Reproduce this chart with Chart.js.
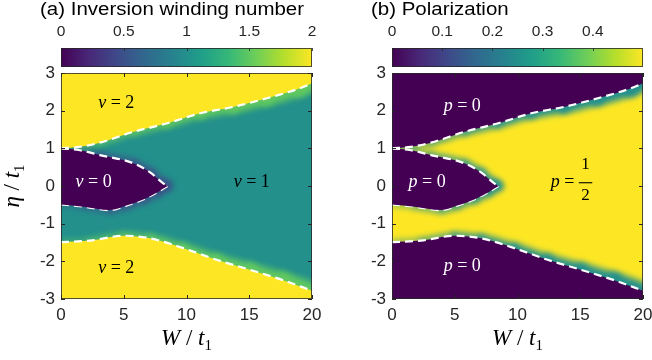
<!DOCTYPE html>
<html lang="en">
<head>
  <meta charset="UTF-8" />
  <title>Inversion winding number and polarization</title>
  <script src="https://cdn.jsdelivr.net/npm/chart.js@4.4.0"></script>
  <style>
    * { box-sizing: border-box; margin: 0; padding: 0; }
    body { background: #fff; width: 652px; height: 360px; overflow: hidden; }
    .panel { position: absolute; top: 0; width: 326px; height: 360px; }
    .panel canvas { position: absolute; left: 0; top: 0; }
    .title {
      position: absolute;
      top: 1px;
      font: 17.5px 'Liberation Sans', Arial, sans-serif;
      line-height: 1;
      color: #000;
      white-space: nowrap;
      transform: scaleX(1.17);
      transform-origin: left top;
    }
  </style>
</head>
<body>
  <div class="panel" style="left:0">
    <canvas id="chartA" width="326" height="360"></canvas>
    <div class="title" style="left:40px">(a) Inversion winding number</div>
  </div>
  <div class="panel" style="left:326px">
    <canvas id="chartB" width="326" height="360"></canvas>
    <div class="title" style="left:45px">(b) Polarization</div>
  </div>

  <script>
    // axis ticks
    const W_TICKS = [0, 5, 10, 15, 20];
    const ETA_TICKS = [-3, -2, -1, 0, 1, 2, 3];
    const NU_CB_TICKS = [0, 0.5, 1, 1.5, 2];
    const P_CB_TICKS = [0, 0.1, 0.2, 0.3, 0.4];
    const NU_RANGE = [0, 2];
    const P_RANGE = [0, 0.5];

    // phase boundaries (white dashed lines), W/t1 and eta/t1
    const upperW   = [0, 1.5, 3.1, 5.8, 8.4, 11.1, 13.7, 16.4, 19.0, 20];
    const upperEta = [1.00, 1.04, 1.15, 1.44, 1.66, 1.93, 2.10, 2.33, 2.59, 2.73];
    const lobeTopW   = [0, 1.5, 3.1, 5.8, 7.1, 8.15, 8.5];
    const lobeTopEta = [1.00, 0.95, 0.82, 0.60, 0.36, 0.07, 0.00];
    const lobeBotW   = [0, 1.8, 3.9, 5.2, 6.6, 7.75, 8.5];
    const lobeBotEta = [-0.49, -0.55, -0.64, -0.52, -0.35, -0.15, 0.00];
    const lowerW   = [0, 2.3, 5.0, 7.1, 9.75, 12.4, 15.1, 17.7, 20];
    const lowerEta = [-1.49, -1.45, -1.32, -1.39, -1.65, -1.96, -2.23, -2.50, -2.78];

    // value of each phase: top, middle, lobe, bottom
    const nuPhase = [2, 1, 0, 2];
    const pPhase  = [0, 0.5, 0, 0];

    // where the phase labels sit (same order as the phases)
    const nuLabelW   = [4.4, 15.2, 2.6, 4.4];
    const nuLabelEta = [2.19, 0.09, 0.09, -2.19];
    const pLabelW    = [5.6, 14.3, 2.8, 5.6];
    const pLabelEta  = [2.11, 0.10, 0.09, -2.14];

    const VIRIDIS = ['#440154', '#482878', '#3e4989', '#31688e', '#26828e',
                     '#1f9e89', '#35b779', '#6ece58', '#b5de2b', '#fde725'];
    const SANS = '"Liberation Sans", Arial, sans-serif';
    const SERIF = '"Liberation Serif", "Times New Roman", serif';
    const INK = '#262626';

    function hexRgb(h) {
      return [1, 3, 5].map(i => parseInt(h.slice(i, i + 2), 16));
    }
    function cmap(t) {
      t = Math.min(1, Math.max(0, t));
      const n = VIRIDIS.length - 1;
      const i = Math.min(n - 1, Math.floor(t * n));
      const f = t * n - i;
      const a = hexRgb(VIRIDIS[i]), b = hexRgb(VIRIDIS[i + 1]);
      const c = a.map((v, k) => Math.round(v + (b[k] - v) * f));
      return `rgb(${c[0]},${c[1]},${c[2]})`;
    }

    // text with mixed fonts, centred on cx, baseline at y
    function richText(ctx, parts, cx, y) {
      let total = 0;
      parts.forEach(p => { ctx.font = p.font; p.w = ctx.measureText(p.t).width; total += p.w; });
      let x = cx - total / 2;
      ctx.textAlign = 'left';
      ctx.textBaseline = 'alphabetic';
      parts.forEach(p => { ctx.font = p.font; ctx.fillText(p.t, x, y + (p.dy || 0)); x += p.w; });
    }

    function phaseLabel(ctx, sym, value, cx, cy, color) {
      const it = `italic 18px ${SERIF}`, up = `18px ${SERIF}`;
      ctx.fillStyle = color;
      ctx.strokeStyle = color;
      ctx.textBaseline = 'middle';
      ctx.textAlign = 'left';
      ctx.font = it; const ws = ctx.measureText(sym).width;
      ctx.font = up; const we = ctx.measureText(' = ').width;
      const frac = !Number.isInteger(value);
      let wv;
      if (frac) { ctx.font = `17px ${SERIF}`; wv = ctx.measureText('2').width + 5; }
      else wv = ctx.measureText(String(value)).width;
      let x = cx - (ws + we + wv) / 2;
      ctx.font = it; ctx.fillText(sym, x, cy); x += ws;
      ctx.font = up; ctx.fillText(' = ', x, cy); x += we;
      if (frac) {
        ctx.font = `17px ${SERIF}`;
        ctx.textAlign = 'center';
        ctx.fillText('1', x + wv / 2, cy - 18);
        ctx.fillText(String(Math.round(1 / value)), x + wv / 2, cy + 13);
        ctx.lineWidth = 1.1;
        ctx.beginPath(); ctx.moveTo(x, cy + 0.5); ctx.lineTo(x + wv, cy + 0.5); ctx.stroke();
      } else {
        ctx.fillText(String(value), x, cy);
      }
    }

    // keep tick-label overhang from shrinking the plot area
    function noPad(s) {
      s.paddingLeft = 0; s.paddingRight = 0; s.paddingTop = 0; s.paddingBottom = 0;
    }

    function makePanel(id, cfg) {
      const [vTop, vMid, vLobe, vBot] = cfg.phase;
      const col = v => cmap((v - cfg.range[0]) / (cfg.range[1] - cfg.range[0]));
      const pts = (ws, es) => ws.map((w, i) => ({ x: w, y: es[i] }));
      const dash = {
        borderColor: '#ffffff', borderWidth: 2.2, borderDash: [8, 5],
        pointRadius: 0, cubicInterpolationMode: 'monotone', order: 0
      };
      const band = (ws, es, a, b) => ({
        data: pts(ws, es), fill: false, borderColor: col((a + b) / 2),
        borderCapStyle: 'round', pointRadius: 0, cubicInterpolationMode: 'monotone',
        order: 1, blur: 3,
        segment: { borderWidth: c => 2 + 0.75 * (c.p0.parsed.x + c.p1.parsed.x) / 2 }
      });

      const tickFont = { family: SANS, size: 17 };
      const plain = v => String(v);

      const phasePlugin = {
        id: 'phase',
        beforeDraw(chart) {
          const { ctx, chartArea: a } = chart;
          ctx.save();
          ctx.fillStyle = col(vMid);
          ctx.fillRect(a.left, a.top, a.right - a.left, a.bottom - a.top);
          ctx.restore();
          // soften the region fills
          ctx.save();
          ctx.filter = 'blur(2px)';
        },
        beforeDatasetsDraw(chart) {
          chart.ctx.restore();
        },
        beforeDatasetDraw(chart, args) {
          const ds = chart.data.datasets[args.index];
          if (ds.blur) { chart.ctx.save(); chart.ctx.filter = `blur(${ds.blur}px)`; }
        },
        afterDatasetDraw(chart, args) {
          if (chart.data.datasets[args.index].blur) chart.ctx.restore();
        },
        afterDraw(chart) {
          const { ctx, chartArea: a, scales: { x, y, cb } } = chart;
          ctx.save();
          // axes box + inner ticks
          ctx.strokeStyle = 'rgba(38,38,38,0.8)';
          ctx.lineWidth = 1;
          ctx.strokeRect(a.left + 0.5, a.top + 0.5, a.right - a.left - 1, a.bottom - a.top - 1);
          ctx.strokeStyle = INK;
          ctx.beginPath();
          W_TICKS.forEach(v => {
            const px = Math.round(x.getPixelForValue(v)) + 0.5;
            ctx.moveTo(px, a.bottom); ctx.lineTo(px, a.bottom - 4);
            ctx.moveTo(px, a.top); ctx.lineTo(px, a.top + 4);
          });
          ETA_TICKS.forEach(v => {
            const py = Math.round(y.getPixelForValue(v)) + 0.5;
            ctx.moveTo(a.left, py); ctx.lineTo(a.left + 4, py);
            ctx.moveTo(a.right, py); ctx.lineTo(a.right - 4, py);
          });
          ctx.stroke();

          // colorbar
          const x0 = cb.getPixelForValue(cfg.range[0]), x1 = cb.getPixelForValue(cfg.range[1]);
          const y0 = a.top - 25, h = 19;
          const g = ctx.createLinearGradient(x0, 0, x1, 0);
          VIRIDIS.forEach((c, i) => g.addColorStop(i / (VIRIDIS.length - 1), c));
          ctx.fillStyle = g;
          ctx.fillRect(x0, y0, x1 - x0, h);
          ctx.strokeStyle = 'rgba(38,38,38,0.8)';
          ctx.strokeRect(x0 + 0.5, y0 + 0.5, x1 - x0 - 1, h - 1);
          ctx.beginPath();
          cfg.cbTicks.forEach(v => {
            const px = Math.round(cb.getPixelForValue(v)) + 0.5;
            ctx.moveTo(px, y0); ctx.lineTo(px, y0 + 3);
          });
          ctx.stroke();

          // phase labels
          cfg.phase.forEach((v, i) => {
            const t = (v - cfg.range[0]) / (cfg.range[1] - cfg.range[0]);
            phaseLabel(ctx, cfg.symbol, v, x.getPixelForValue(cfg.labelW[i]),
              y.getPixelForValue(cfg.labelEta[i]), t < 0.3 ? '#ffffff' : '#000000');
          });

          // axis titles
          ctx.fillStyle = '#000';
          const it = `italic 23px ${SERIF}`, up = `23px ${SERIF}`, sub = `15px ${SERIF}`;
          richText(ctx, [{ t: 'W', font: it }, { t: ' / ', font: up }, { t: 't', font: it },
                         { t: '1', font: sub, dy: 5 }], (a.left + a.right) / 2, 345);
          if (cfg.yTitle) {
            ctx.save();
            ctx.translate(19, (a.top + a.bottom) / 2);
            ctx.rotate(-Math.PI / 2);
            richText(ctx, [{ t: 'η', font: it }, { t: ' / ', font: up }, { t: 't', font: it },
                           { t: '1', font: sub, dy: 5 }], 0, 0);
            ctx.restore();
          }
          ctx.restore();
        }
      };

      return new Chart(document.getElementById(id), {
        type: 'line',
        data: {
          datasets: [
            { ...dash, data: pts(upperW, upperEta), fill: { value: 4 }, backgroundColor: col(vTop) },
            { ...dash, data: pts(lobeTopW, lobeTopEta), fill: '+1', backgroundColor: col(vLobe) },
            { ...dash, data: pts(lobeBotW, lobeBotEta), fill: false },
            { ...dash, data: pts(lowerW, lowerEta), fill: { value: -4 }, backgroundColor: col(vBot) },
            band(upperW, upperEta, vTop, vMid),
            band(lobeTopW, lobeTopEta, vLobe, vMid),
            band(lobeBotW, lobeBotEta, vLobe, vMid),
            band(lowerW, lowerEta, vBot, vMid)
          ]
        },
        options: {
          responsive: false,
          animation: false,
          events: [],
          layout: { padding: { left: 0, right: cfg.rightPad, top: 0, bottom: 0 } },
          plugins: { legend: { display: false }, tooltip: { enabled: false } },
          scales: {
            x: {
              type: 'linear', position: 'bottom', min: 0, max: 20,
              afterFit: s => { s.height = 61; noPad(s); },
              afterBuildTicks: s => { s.ticks = W_TICKS.map(v => ({ value: v })); },
              grid: { display: false, drawTicks: false, z: 1 },
              border: { display: false, z: 1 },
              ticks: { padding: 6, font: tickFont, color: INK, maxRotation: 0, autoSkip: false, callback: plain, z: 1 }
            },
            y: {
              type: 'linear', position: 'left', min: -3, max: 3,
              afterFit: s => { s.width = cfg.yWidth; noPad(s); },
              afterBuildTicks: s => { s.ticks = ETA_TICKS.map(v => ({ value: v })); },
              grid: { display: false, drawTicks: false, z: 1 },
              border: { display: false, z: 1 },
              ticks: { padding: 6, font: tickFont, color: INK, autoSkip: false, callback: plain, z: 1 }
            },
            cb: {
              type: 'linear', axis: 'x', position: 'top', min: cfg.range[0], max: cfg.range[1],
              afterFit: s => { s.height = 73; noPad(s); },
              afterBuildTicks: s => { s.ticks = cfg.cbTicks.map(v => ({ value: v })); },
              grid: { display: false, drawTicks: false, z: 1 },
              border: { display: false, z: 1 },
              ticks: { padding: 32, font: { family: SANS, size: 15.5 }, color: INK, maxRotation: 0, autoSkip: false, callback: plain, z: 1 }
            }
          }
        },
        plugins: [phasePlugin]
      });
    }

    makePanel('chartA', {
      phase: nuPhase, range: NU_RANGE, cbTicks: NU_CB_TICKS, symbol: 'ν',
      labelW: nuLabelW, labelEta: nuLabelEta, yWidth: 61, rightPad: 14, yTitle: true
    });
    makePanel('chartB', {
      phase: pPhase, range: P_RANGE, cbTicks: P_CB_TICKS, symbol: 'p',
      labelW: pLabelW, labelEta: pLabelEta, yWidth: 66, rightPad: 9, yTitle: false
    });
  </script>
</body>
</html>
